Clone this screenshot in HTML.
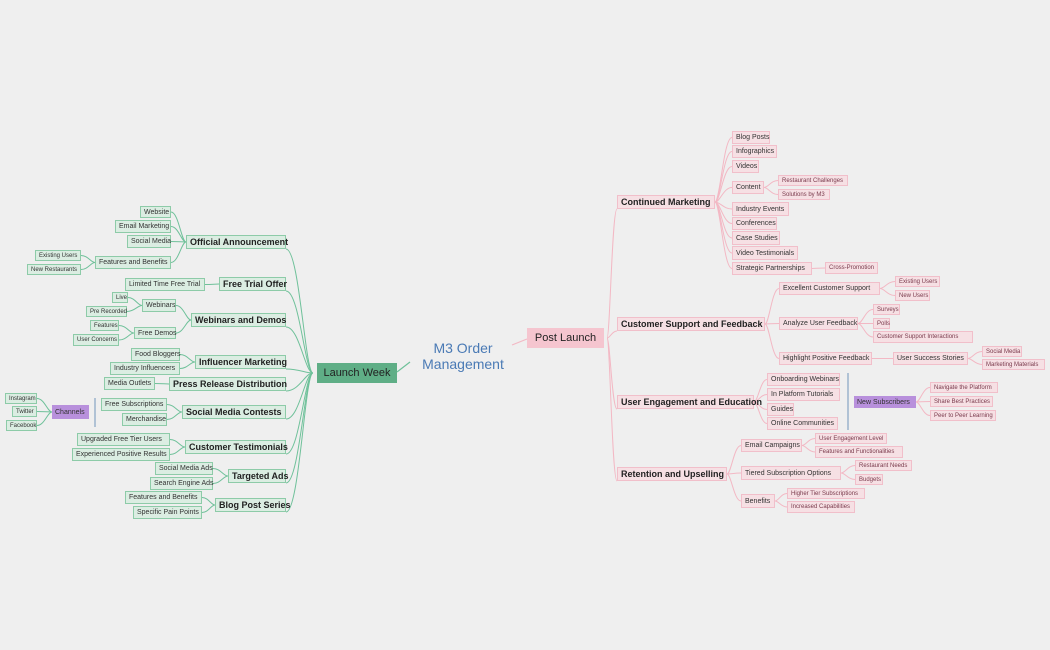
<!DOCTYPE html>
<html><head><meta charset="utf-8"><style>
html,body{margin:0;padding:0;background:#efefef;}
body{width:1050px;height:650px;position:relative;overflow:hidden;font-family:"Liberation Sans",sans-serif;}
.n{position:absolute;box-sizing:border-box;display:flex;align-items:center;justify-content:flex-start;padding-left:3px;white-space:nowrap;color:#222;overflow:visible;}
.g1{background:#dbede2;border:1px solid #8dcba8;font-size:9px;font-weight:bold;}
.g2{background:#dbede2;border:1px solid #8dcba8;font-size:7px;color:#333;}
.g3{background:#dbede2;border:1px solid #8dcba8;font-size:6px;color:#333;}
.p1{background:#f6e0e4;border:1px solid #f1bfca;font-size:9px;font-weight:bold;}
.p2{background:#f6e0e4;border:1px solid #f1bfca;font-size:7px;color:#333;}
.p3{background:#f6e0e4;border:1px solid #f1bfca;font-size:6px;color:#7a3a4c;}
.pu{background:#b890dc;border:none;font-size:7px;color:#333;}
svg{position:absolute;left:0;top:0;}
</style></head><body>
<svg id="s" width="1050" height="650">
<line x1="410" y1="362" x2="397" y2="372" stroke="#6fc19a" stroke-width="1.2"/>
<line x1="512" y1="345" x2="527" y2="339" stroke="#f3b8c4" stroke-width="1.2"/>
<line x1="95" y1="398" x2="95" y2="427" stroke="#9bb3cc" stroke-width="1.5"/>
<line x1="848" y1="373" x2="848" y2="430" stroke="#9bb3cc" stroke-width="1.5"/>
</svg>
<div class="n" style="left:418px;top:339px;width:90px;height:34px;font-size:14px;color:#4a7ab5;text-align:center;line-height:16px;white-space:normal;justify-content:center;padding:0">M3 Order Management</div>
<div class="n" id="LW" style="left:317px;top:363px;width:80px;height:20px;background:#5fae86;font-size:11px;justify-content:center;padding:0">Launch Week</div>
<div class="n" id="PL" style="left:527px;top:328px;width:77px;height:20px;background:#f5c5cf;font-size:11px;justify-content:center;padding:0">Post Launch</div>

<div class="n g1" id="a1" style="left:186px;top:235px;width:100px;height:14px">Official Announcement</div>
<div class="n g1" id="a2" style="left:219px;top:277px;width:67px;height:14px">Free Trial Offer</div>
<div class="n g1" id="a3" style="left:191px;top:313px;width:95px;height:14px">Webinars and Demos</div>
<div class="n g1" id="a4" style="left:195px;top:355px;width:91px;height:14px">Influencer Marketing</div>
<div class="n g1" id="a5" style="left:169px;top:377px;width:117px;height:14px">Press Release Distribution</div>
<div class="n g1" id="a6" style="left:182px;top:405px;width:104px;height:14px">Social Media Contests</div>
<div class="n g1" id="a7" style="left:185px;top:440px;width:101px;height:14px">Customer Testimonials</div>
<div class="n g1" id="a8" style="left:228px;top:469px;width:58px;height:14px">Targeted Ads</div>
<div class="n g1" id="a9" style="left:215px;top:498px;width:71px;height:14px">Blog Post Series</div>

<div class="n g2" id="b1" style="left:140px;top:206px;width:31px;height:12px">Website</div>
<div class="n g2" id="b2" style="left:115px;top:220px;width:56px;height:13px">Email Marketing</div>
<div class="n g2" id="b3" style="left:127px;top:235px;width:44px;height:13px">Social Media</div>
<div class="n g2" id="b4" style="left:95px;top:256px;width:76px;height:13px">Features and Benefits</div>
<div class="n g3" id="b5" style="left:35px;top:250px;width:46px;height:11px">Existing Users</div>
<div class="n g3" id="b6" style="left:27px;top:264px;width:54px;height:11px">New Restaurants</div>
<div class="n g2" id="b7" style="left:125px;top:278px;width:80px;height:13px">Limited Time Free Trial</div>
<div class="n g2" id="b8" style="left:142px;top:299px;width:34px;height:13px">Webinars</div>
<div class="n g3" id="b9" style="left:112px;top:292px;width:16px;height:11px">Live</div>
<div class="n g3" id="b10" style="left:86px;top:306px;width:41px;height:11px">Pre Recorded</div>
<div class="n g2" id="b11" style="left:134px;top:327px;width:42px;height:12px">Free Demos</div>
<div class="n g3" id="b12" style="left:90px;top:320px;width:29px;height:11px">Features</div>
<div class="n g3" id="b13" style="left:73px;top:334px;width:46px;height:12px">User Concerns</div>
<div class="n g2" id="b14" style="left:131px;top:348px;width:49px;height:13px">Food Bloggers</div>
<div class="n g2" id="b15" style="left:110px;top:362px;width:70px;height:13px">Industry Influencers</div>
<div class="n g2" id="b16" style="left:104px;top:377px;width:51px;height:13px">Media Outlets</div>
<div class="n g2" id="b17" style="left:101px;top:398px;width:66px;height:13px">Free Subscriptions</div>
<div class="n g2" id="b18" style="left:122px;top:413px;width:45px;height:13px">Merchandise</div>
<div class="n pu" id="ch" style="left:52px;top:405px;width:37px;height:14px">Channels</div>
<div class="n g3" id="b19" style="left:5px;top:393px;width:32px;height:11px">Instagram</div>
<div class="n g3" id="b20" style="left:12px;top:406px;width:25px;height:11px">Twitter</div>
<div class="n g3" id="b21" style="left:6px;top:420px;width:31px;height:11px">Facebook</div>
<div class="n g2" id="b22" style="left:77px;top:433px;width:93px;height:13px">Upgraded Free Tier Users</div>
<div class="n g2" id="b23" style="left:72px;top:448px;width:98px;height:13px">Experienced Positive Results</div>
<div class="n g2" id="b24" style="left:155px;top:462px;width:58px;height:13px">Social Media Ads</div>
<div class="n g2" id="b25" style="left:150px;top:477px;width:63px;height:13px">Search Engine Ads</div>
<div class="n g2" id="b26" style="left:125px;top:491px;width:77px;height:13px">Features and Benefits</div>
<div class="n g2" id="b27" style="left:133px;top:506px;width:69px;height:13px">Specific Pain Points</div>

<div class="n p1" id="c1" style="left:617px;top:195px;width:98px;height:14px">Continued Marketing</div>
<div class="n p1" id="c2" style="left:617px;top:317px;width:148px;height:14px">Customer Support and Feedback</div>
<div class="n p1" id="c3" style="left:617px;top:395px;width:137px;height:14px">User Engagement and Education</div>
<div class="n p1" id="c4" style="left:617px;top:467px;width:110px;height:14px">Retention and Upselling</div>

<div class="n p2" id="d1" style="left:732px;top:131px;width:38px;height:13px">Blog Posts</div>
<div class="n p2" id="d2" style="left:732px;top:145px;width:45px;height:13px">Infographics</div>
<div class="n p2" id="d3" style="left:732px;top:160px;width:27px;height:13px">Videos</div>
<div class="n p2" id="d4" style="left:732px;top:181px;width:32px;height:13px">Content</div>
<div class="n p3" id="d5" style="left:778px;top:175px;width:70px;height:11px">Restaurant Challenges</div>
<div class="n p3" id="d6" style="left:778px;top:189px;width:52px;height:11px">Solutions by M3</div>
<div class="n p2" id="d7" style="left:732px;top:202px;width:57px;height:14px">Industry Events</div>
<div class="n p2" id="d8" style="left:732px;top:217px;width:45px;height:13px">Conferences</div>
<div class="n p2" id="d9" style="left:732px;top:231px;width:48px;height:14px">Case Studies</div>
<div class="n p2" id="d10" style="left:732px;top:246px;width:66px;height:14px">Video Testimonials</div>
<div class="n p2" id="d11" style="left:732px;top:262px;width:80px;height:13px">Strategic Partnerships</div>
<div class="n p3" id="d12" style="left:825px;top:262px;width:53px;height:12px">Cross-Promotion</div>

<div class="n p2" id="e1" style="left:779px;top:282px;width:101px;height:13px">Excellent Customer Support</div>
<div class="n p3" id="e2" style="left:895px;top:276px;width:45px;height:11px">Existing Users</div>
<div class="n p3" id="e3" style="left:895px;top:290px;width:35px;height:11px">New Users</div>
<div class="n p2" id="e4" style="left:779px;top:317px;width:79px;height:13px">Analyze User Feedback</div>
<div class="n p3" id="e5" style="left:873px;top:304px;width:27px;height:11px">Surveys</div>
<div class="n p3" id="e6" style="left:873px;top:318px;width:17px;height:11px">Polls</div>
<div class="n p3" id="e7" style="left:873px;top:331px;width:100px;height:12px">Customer Support Interactions</div>
<div class="n p2" id="e8" style="left:779px;top:352px;width:93px;height:13px">Highlight Positive Feedback</div>
<div class="n p2" id="e9" style="left:893px;top:352px;width:75px;height:13px">User Success Stories</div>
<div class="n p3" id="e10" style="left:982px;top:346px;width:40px;height:11px">Social Media</div>
<div class="n p3" id="e11" style="left:982px;top:359px;width:63px;height:11px">Marketing Materials</div>

<div class="n p2" id="f1" style="left:767px;top:373px;width:73px;height:13px">Onboarding Webinars</div>
<div class="n p2" id="f2" style="left:767px;top:388px;width:73px;height:13px">In Platform Tutorials</div>
<div class="n p2" id="f3" style="left:767px;top:403px;width:27px;height:13px">Guides</div>
<div class="n p2" id="f4" style="left:767px;top:417px;width:71px;height:13px">Online Communities</div>
<div class="n pu" id="ns" style="left:854px;top:396px;width:62px;height:12px">New Subscribers</div>
<div class="n p3" id="f5" style="left:930px;top:382px;width:68px;height:11px">Navigate the Platform</div>
<div class="n p3" id="f6" style="left:930px;top:396px;width:63px;height:11px">Share Best Practices</div>
<div class="n p3" id="f7" style="left:930px;top:410px;width:66px;height:11px">Peer to Peer Learning</div>

<div class="n p2" id="g1" style="left:741px;top:439px;width:61px;height:13px">Email Campaigns</div>
<div class="n p3" id="g2" style="left:815px;top:433px;width:72px;height:11px">User Engagement Level</div>
<div class="n p3" id="g3" style="left:815px;top:446px;width:88px;height:12px">Features and Functionalities</div>
<div class="n p2" id="g4" style="left:741px;top:466px;width:100px;height:14px">Tiered Subscription Options</div>
<div class="n p3" id="g5" style="left:855px;top:460px;width:57px;height:11px">Restaurant Needs</div>
<div class="n p3" id="g6" style="left:855px;top:474px;width:28px;height:11px">Budgets</div>
<div class="n p2" id="g7" style="left:741px;top:494px;width:34px;height:14px">Benefits</div>
<div class="n p3" id="g8" style="left:787px;top:488px;width:78px;height:11px">Higher Tier Subscriptions</div>
<div class="n p3" id="g9" style="left:787px;top:501px;width:68px;height:12px">Increased Capabilities</div>

<script>
var E={LW:'a1 a2 a3 a4 a5 a6 a7 a8 a9',a1:'b1 b2 b3 b4',b4:'b5 b6',a2:'b7',a3:'b8 b11',b8:'b9 b10',b11:'b12 b13',a4:'b14 b15',a5:'b16',a6:'b17 b18',ch:'b19 b20 b21',a7:'b22 b23',a8:'b24 b25',a9:'b26 b27',
PL:'c1 c2 c3 c4',c1:'d1 d2 d3 d4 d7 d8 d9 d10 d11',d4:'d5 d6',d11:'d12',c2:'e1 e4 e8',e1:'e2 e3',e4:'e5 e6 e7',e8:'e9',e9:'e10 e11',c3:'f1 f2 f3 f4',ns:'f5 f6 f7',c4:'g1 g4 g7',g1:'g2 g3',g4:'g5 g6',g7:'g8 g9'};
var s=document.getElementById('s'),NS='http://www.w3.org/2000/svg';
function r(id){var e=document.getElementById(id);return{l:e.offsetLeft,t:e.offsetTop,w:e.offsetWidth,h:e.offsetHeight};}
for(var p in E){var P=r(p);E[p].split(' ').forEach(function(c){var C=r(c);var left=C.l<P.l;var green=left;
var x1=left?P.l-(p=='LW'?4:0):P.l+P.w+(p=='PL'?3:0),y1=P.t+P.h/2;var x2=left?C.l+C.w:C.l,y2=C.t+C.h/2;
if(p=='LW'||p=='PL'){y2=C.t+C.h;}
var path=document.createElementNS(NS,'path');
path.setAttribute('d','M'+x1+','+y1+' C'+(x1+(x2-x1)*0.3)+','+y1+' '+(x1+(x2-x1)*0.5)+','+y2+' '+x2+','+y2);
path.setAttribute('fill','none');path.setAttribute('stroke',green?'#6fc19a':'#f3b8c4');path.setAttribute('stroke-width','1');s.appendChild(path);});}
</script>
</body></html>
